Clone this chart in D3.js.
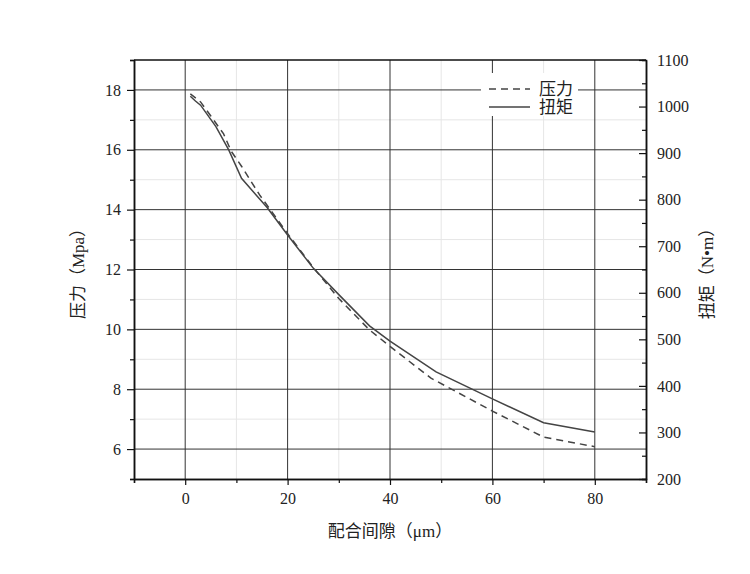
<!DOCTYPE html>
<html><head><meta charset="utf-8">
<script src="https://cdn.jsdelivr.net/npm/d3@7"></script>
<style>
body{margin:0;background:#fff}
text{font-family:"Liberation Serif","Noto Sans CJK SC",serif;fill:#222}
</style>
</head><body>
<svg id="chart" width="750" height="574"></svg>
<script>
// ---- data ----
const pressureX = [1, 3, 5, 7.5, 9, 11, 14.5, 20, 25, 30, 36, 40, 48, 60, 70, 80];
const pressureY = [17.87, 17.6, 17.13, 16.53, 15.95, 15.45, 14.5, 13.2, 12.07, 11.03, 9.98, 9.43, 8.37, 7.27, 6.4, 6.08];
const torqueX = [1, 2, 3, 6, 8.5, 11, 16, 20, 25, 30, 36, 40, 49, 60, 70, 80];
const torqueY = [1022, 1012, 1003, 957, 907, 846, 783, 724, 653, 596, 529, 496, 430, 372, 321, 301];
const xTicks = [0, 20, 40, 60, 80];
const xMinorTicks = [-10, 10, 30, 50, 70, 90];
const leftTicks = [6, 8, 10, 12, 14, 16, 18];
const leftMinorTicks = [5, 7, 9, 11, 13, 15, 17, 19];
const rightTicks = [200, 300, 400, 500, 600, 700, 800, 900, 1000, 1100];
const rightMinorTicks = [250, 350, 450, 550, 650, 750, 850, 950, 1050];
const seriesNames = ["压力", "扭矩"];
const xTitle = "配合间隙（μm）";
const leftTitle = "压力（Mpa）";
const rightTitle = "扭矩（N•m）";

// ---- layout ----
const L = 134, R = 646, T = 60, B = 479;
const svg = d3.select("#chart");
const x = d3.scaleLinear().domain([-10, 90]).range([L, R]);
const yL = d3.scaleLinear().domain([5, 19]).range([B, T]);
const yR = d3.scaleLinear().domain([200, 1100]).range([B, T]);

const gridCol = "#e6e6e6", majorCol = "#333";
// minor grid
svg.append("g").selectAll("line").data(xMinorTicks.filter(d => d > -10 && d < 90)).join("line")
  .attr("x1", d => x(d)).attr("x2", d => x(d)).attr("y1", T).attr("y2", B)
  .attr("stroke", gridCol).attr("stroke-width", 1);
svg.append("g").selectAll("line").data(leftMinorTicks.filter(d => d > 5 && d < 19)).join("line")
  .attr("x1", L).attr("x2", R).attr("y1", d => yL(d)).attr("y2", d => yL(d))
  .attr("stroke", gridCol).attr("stroke-width", 1);
// major grid
svg.append("g").selectAll("line").data(xTicks).join("line")
  .attr("x1", d => x(d)).attr("x2", d => x(d)).attr("y1", T).attr("y2", B)
  .attr("stroke", majorCol).attr("stroke-width", 1);
svg.append("g").selectAll("line").data(leftTicks).join("line")
  .attr("x1", L).attr("x2", R).attr("y1", d => yL(d)).attr("y2", d => yL(d))
  .attr("stroke", majorCol).attr("stroke-width", 1);

// series
const pData = pressureX.map((v, i) => [v, pressureY[i]]);
const tData = torqueX.map((v, i) => [v, torqueY[i]]);
svg.append("path").datum(pData)
  .attr("d", d3.line().x(d => x(d[0])).y(d => yL(d[1])))
  .attr("fill", "none").attr("stroke", "#444").attr("stroke-width", 1.5)
  .attr("stroke-dasharray", "7,5");
svg.append("path").datum(tData)
  .attr("d", d3.line().x(d => x(d[0])).y(d => yR(d[1])))
  .attr("fill", "none").attr("stroke", "#444").attr("stroke-width", 1.5);

// top frame
svg.append("line").attr("x1", L).attr("x2", R).attr("y1", T).attr("y2", T)
  .attr("stroke", "#111").attr("stroke-width", 1.5);

function styleAxis(g) {
  g.attr("font-family", '"Liberation Serif", serif');
  g.selectAll(".domain").attr("stroke", "#111").attr("stroke-width", 1.5);
  g.selectAll(".tick line").attr("stroke", "#111").attr("stroke-width", 1.2);
  g.selectAll("text").attr("font-size", 16).attr("fill", "#222")
    .style("font-family", '"Liberation Serif", serif');
}
const fmt = d3.format("d");

// bottom axis
svg.append("g").attr("transform", `translate(0,${B})`)
  .call(d3.axisBottom(x).tickValues(xMinorTicks).tickSize(4).tickFormat(""))
  .call(styleAxis);
svg.append("g").attr("transform", `translate(0,${B})`)
  .call(d3.axisBottom(x).tickValues(xTicks).tickSize(6).tickSizeOuter(0).tickPadding(8).tickFormat(fmt))
  .call(styleAxis);
// left axis
svg.append("g").attr("transform", `translate(${L},0)`)
  .call(d3.axisLeft(yL).tickValues(leftMinorTicks).tickSize(4).tickFormat(""))
  .call(styleAxis);
svg.append("g").attr("transform", `translate(${L},0)`)
  .call(d3.axisLeft(yL).tickValues(leftTicks).tickSize(7).tickSizeOuter(0).tickPadding(6).tickFormat(fmt))
  .call(styleAxis);
// right axis (ticks inward)
svg.append("g").attr("transform", `translate(${R},0)`)
  .call(d3.axisRight(yR).tickValues(rightMinorTicks).tickSize(-4).tickFormat(""))
  .call(styleAxis);
svg.append("g").attr("transform", `translate(${R},0)`)
  .call(d3.axisRight(yR).tickValues(rightTicks).tickSize(-7).tickSizeOuter(0).tickPadding(11).tickFormat(fmt))
  .call(styleAxis);

// titles
svg.append("text").attr("x", (x(0) + x(80)) / 2).attr("y", 537).attr("text-anchor", "middle")
  .attr("font-size", 17).text(xTitle);
svg.append("text").attr("transform", `translate(84,${(T + B) / 2}) rotate(-90)`)
  .attr("text-anchor", "middle").attr("font-size", 17).text(leftTitle);
svg.append("text").attr("transform", `translate(713,${(T + B) / 2}) rotate(-90)`)
  .attr("text-anchor", "middle").attr("font-size", 17).text(rightTitle);

// legend
const lg = svg.append("g");
lg.append("rect").attr("x", 481).attr("y", 73).attr("width", 97).attr("height", 43).attr("fill", "#fff");
const legendRows = [{name: seriesNames[0], dash: "7,5", y: 89}, {name: seriesNames[1], dash: null, y: 107}];
legendRows.forEach(r => {
  lg.append("line").attr("x1", 489).attr("x2", 530).attr("y1", r.y).attr("y2", r.y)
    .attr("stroke", "#444").attr("stroke-width", 1.5).attr("stroke-dasharray", r.dash);
  lg.append("text").attr("x", 539).attr("y", r.y).attr("dy", "0.36em")
    .attr("font-size", 17).text(r.name);
});
</script>
</body></html>
